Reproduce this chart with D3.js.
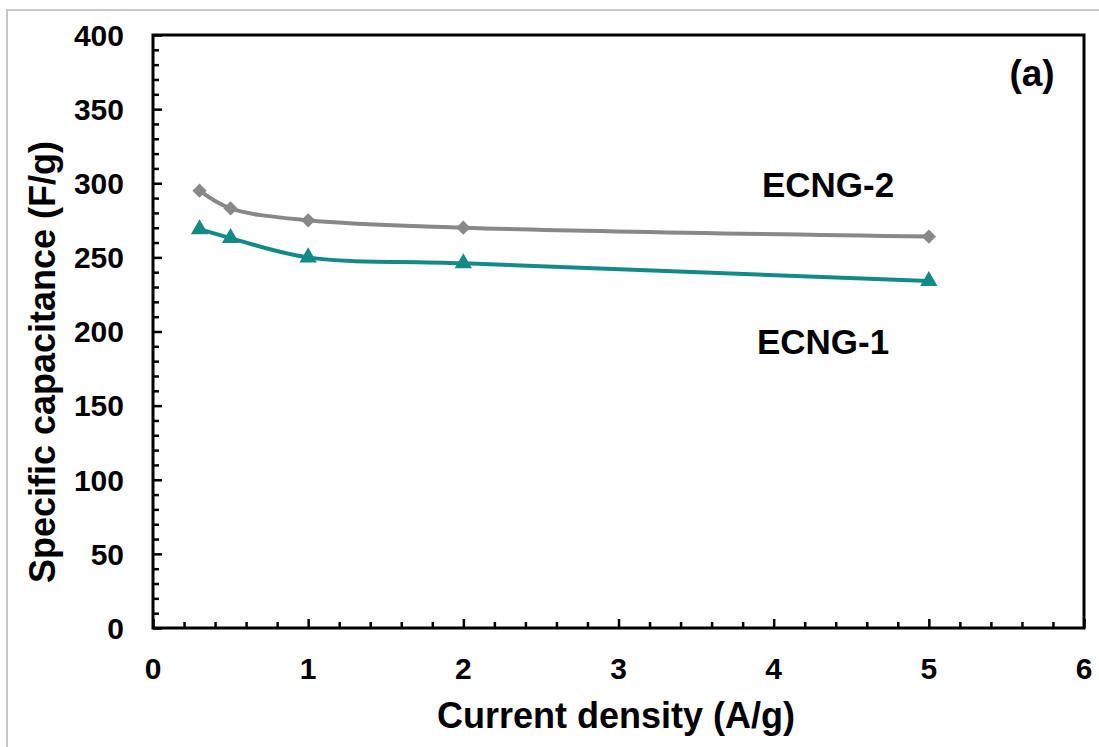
<!DOCTYPE html>
<html>
<head>
<meta charset="utf-8">
<script src="https://cdn.jsdelivr.net/npm/d3@7"></script>
<style>
html,body{margin:0;padding:0;background:#fff;}
text{font-family:"Liberation Sans",Arial,sans-serif;font-weight:bold;fill:#000;}
</style>
</head>
<body>
<svg id="chart" width="1099" height="747"></svg>
<script>
const currentDensity = [0.3, 0.5, 1, 2, 5];
const ecng2 = [295, 283, 275, 270, 264];
const ecng1 = [269, 263, 250, 246, 234];
const xTicks = [0, 1, 2, 3, 4, 5, 6];
const yTicks = [0, 50, 100, 150, 200, 250, 300, 350, 400];
const seriesNames = ["ECNG-2", "ECNG-1"];

const svg = d3.select("#chart");
const L = 153, R = 1084, T = 35, B = 628;
const x = d3.scaleLinear().domain([0, 6]).range([L, R]);
const y = d3.scaleLinear().domain([0, 400]).range([B, T]);

// outer light border
svg.append("rect").attr("x", 7).attr("y", 10).attr("width", 1110).attr("height", 760)
  .attr("fill", "none").attr("stroke", "#c8c8c8").attr("stroke-width", 2);

// plot frame
svg.append("rect").attr("x", L).attr("y", T).attr("width", R - L).attr("height", B - T)
  .attr("fill", "none").attr("stroke", "#000").attr("stroke-width", 3);

// minor ticks
const yMinor = d3.range(0, 401, 10).filter(v => v % 50 !== 0);
const xMinor = d3.range(0, 6.001, 0.2).map(v => +v.toFixed(1)).filter(v => Math.abs(v - Math.round(v)) > 1e-6);

svg.append("g").attr("transform", `translate(${L},0)`).call(d3.axisRight(y).tickValues(yTicks).tickSize(9).tickFormat(""))
  .call(g => g.select(".domain").remove())
  .call(g => g.selectAll("line").attr("stroke-width", 2.5));
svg.append("g").attr("transform", `translate(${L},0)`).call(d3.axisRight(y).tickValues(yMinor).tickSize(6).tickFormat(""))
  .call(g => g.select(".domain").remove())
  .call(g => g.selectAll("line").attr("stroke-width", 2.5));

svg.append("g").attr("transform", `translate(0,${B})`).call(d3.axisTop(x).tickValues(xTicks).tickSize(9).tickFormat(""))
  .call(g => g.select(".domain").remove())
  .call(g => g.selectAll("line").attr("stroke-width", 2.5));
svg.append("g").attr("transform", `translate(0,${B})`).call(d3.axisTop(x).tickValues(xMinor).tickSize(6).tickFormat(""))
  .call(g => g.select(".domain").remove())
  .call(g => g.selectAll("line").attr("stroke-width", 2.5));

// tick labels
svg.append("g").selectAll("text").data(yTicks).join("text")
  .attr("x", 124).attr("y", d => y(d)).attr("dy", "0.36em")
  .attr("text-anchor", "end").attr("font-size", 30).text(d => d);
svg.append("g").selectAll("text").data(xTicks).join("text")
  .attr("x", d => x(d)).attr("y", 679)
  .attr("text-anchor", "middle").attr("font-size", 30).text(d => d);

// axis titles
svg.append("text").attr("x", 616).attr("y", 728).attr("text-anchor", "middle")
  .attr("font-size", 36).text("Current density (A/g)");
svg.append("text").attr("transform", "translate(55,362) rotate(-90)").attr("text-anchor", "middle")
  .attr("font-size", 36).text("Specific capacitance (F/g)");

// series
const line = d3.line().x((d, i) => x(currentDensity[i])).y(d => y(d)).curve(d3.curveCatmullRom.alpha(0.5));
const gray = "#888888", teal = "#148a87";

svg.append("path").datum(ecng2).attr("d", line).attr("fill", "none").attr("stroke", gray).attr("stroke-width", 4);
svg.append("path").datum(ecng1).attr("d", line).attr("fill", "none").attr("stroke", teal).attr("stroke-width", 4);

svg.append("g").selectAll("path").data(ecng2).join("path")
  .attr("transform", (d, i) => `translate(${x(currentDensity[i])},${y(d)})`)
  .attr("d", d3.symbol(d3.symbolDiamond2, 130)).attr("fill", gray);
svg.append("g").selectAll("path").data(ecng1).join("path")
  .attr("transform", (d, i) => `translate(${x(currentDensity[i])},${y(d)})`)
  .attr("d", d3.symbol(d3.symbolTriangle, 130)).attr("fill", teal);

// labels
svg.append("text").attr("x", 828).attr("y", 197).attr("text-anchor", "middle").attr("font-size", 35).text(seriesNames[0]);
svg.append("text").attr("x", 823).attr("y", 354).attr("text-anchor", "middle").attr("font-size", 35).text(seriesNames[1]);
svg.append("text").attr("x", 1032).attr("y", 86).attr("text-anchor", "middle").attr("font-size", 37).text("(a)");
</script>
</body>
</html>
